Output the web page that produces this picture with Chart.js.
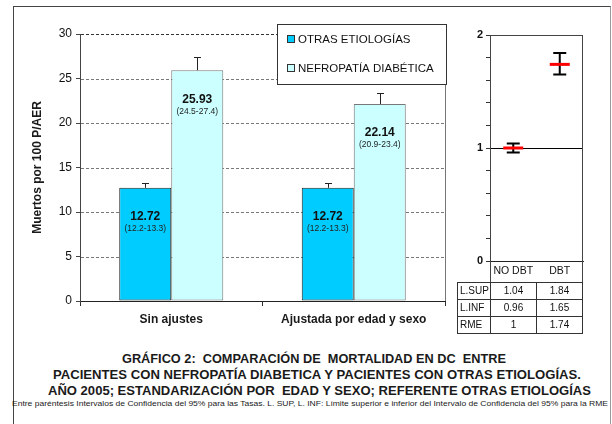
<!DOCTYPE html>
<html>
<head>
<meta charset="utf-8">
<script src="https://cdn.jsdelivr.net/npm/chart.js@4.4.1/dist/chart.umd.min.js"></script>
<style>
html,body{margin:0;padding:0;background:#fff;}
body{width:612px;height:424px;position:relative;overflow:hidden;font-family:"Liberation Sans",Arial,sans-serif;color:#111;}
#frame{position:absolute;left:13px;top:6px;width:596px;height:440px;border:1px solid #444;border-right-color:#999;}
#mainWrap{position:absolute;left:0;top:0;width:460px;height:340px;}
#rmeWrap{position:absolute;left:440px;top:20px;width:160px;height:265px;}
#rmeTable{position:absolute;left:457px;top:282px;border-collapse:collapse;font-size:10px;table-layout:fixed;}
#rmeTable td{border:1px solid #333;height:16px;padding:0;text-align:center;line-height:16px;}
#rmeTable td.lab{text-align:left;padding-left:2px;}
.tl{position:absolute;white-space:pre;font-weight:bold;font-family:"Liberation Sans Narrow","Liberation Sans",Arial,sans-serif;color:#1a1a1a;transform-origin:0 50%;}
</style>
</head>
<body>
<div id="frame"></div>
<div id="mainWrap"><canvas id="main"></canvas></div>
<div id="rmeWrap"><canvas id="rme"></canvas></div>
<table id="rmeTable"></table>

<div class="tl" data-w="384" style="left:122px;top:351px;font-size:13px;line-height:16px;">GRÁFICO 2:  COMPARACIÓN DE  MORTALIDAD EN DC  ENTRE</div>
<div class="tl" data-w="528" style="left:53px;top:367px;font-size:13px;line-height:16px;">PACIENTES CON NEFROPATÍA DIABETICA Y PACIENTES CON OTRAS ETIOLOGÍAS.</div>
<div class="tl" data-w="543" style="left:48px;top:383px;font-size:13px;line-height:16px;">AÑO 2005; ESTANDARIZACIÓN POR  EDAD Y SEXO; REFERENTE OTRAS ETIOLOGÍAS</div>
<div class="tl" data-w="596" style="left:12px;top:398px;font-size:8px;line-height:12px;font-weight:normal;">Entre paréntesis Intervalos de Confidencia del 95% para las Tasas. L. SUP, L. INF: Límite superior e inferior del Intervalo de Confidencia del 95% para la RME</div>

<script>
// tasas por 100 pacientes/año en riesgo
const categories = ['Sin ajustes', 'Ajustada por edad y sexo'];
const seriesNames = ['OTRAS ETIOLOGÍAS', 'NEFROPATÍA DIABÉTICA'];
const otrasRate = [12.72, 12.72];
const otrasLow = [12.2, 12.2];
const otrasHigh = [13.3, 13.3];
const nefroRate = [25.93, 22.14];
const nefroLow = [24.5, 20.9];
const nefroHigh = [27.4, 23.4];

// razón de mortalidad estandarizada
const rmeGroups = ['NO DBT', 'DBT'];
const rmeValue = [1, 1.74];
const rmeSup = [1.04, 1.84];
const rmeInf = [0.96, 1.65];

const BLUE = '#00CCFF';
const CYAN = '#CCFFFF';
const FONT = '"Liberation Sans", Arial, sans-serif';

// ---- barras ----
const lowArr = [otrasLow, nefroLow];
const highArr = [otrasHigh, nefroHigh];

const barExtras = {
  id: 'barExtras',
  beforeDatasetsDraw(chart){
    const {ctx, chartArea:a} = chart;
    const y = chart.scales.y;
    ctx.save();
    // líneas de división punteadas
    ctx.lineWidth = 1;
    ctx.setLineDash([3, 2]);
    for (let v = 5; v <= 30; v += 5) {
      const py = Math.round(y.getPixelForValue(v)) + 0.5;
      ctx.strokeStyle = v === 30 ? '#333' : '#777';
      ctx.beginPath();
      ctx.moveTo(a.left + 1, py);
      ctx.lineTo(a.right, py);
      ctx.stroke();
    }
    ctx.setLineDash([]);
    // borde derecho del área de trazado
    ctx.strokeStyle = '#777';
    ctx.beginPath();
    ctx.moveTo(a.right + 0.5, a.top);
    ctx.lineTo(a.right + 0.5, a.bottom);
    ctx.stroke();
    ctx.restore();
  },
  afterDatasetsDraw(chart){
    const {ctx} = chart;
    const y = chart.scales.y;
    ctx.save();
    chart.data.datasets.forEach((ds, di) => {
      const meta = chart.getDatasetMeta(di);
      meta.data.forEach((bar, i) => {
        const x = Math.round(bar.x) + 0.5;
        const top = bar.y;
        const hi = Math.round(y.getPixelForValue(highArr[di][i])) + 0.5;
        // bigote superior del intervalo
        ctx.strokeStyle = '#222';
        ctx.lineWidth = 1;
        ctx.beginPath();
        ctx.moveTo(x, top);
        ctx.lineTo(x, hi);
        ctx.moveTo(x - 3.5, hi);
        ctx.lineTo(x + 3.5, hi);
        ctx.stroke();
        // valor e intervalo dentro de la barra
        ctx.fillStyle = '#111';
        ctx.textAlign = 'center';
        ctx.textBaseline = 'middle';
        ctx.font = 'bold 12px ' + FONT;
        ctx.fillText(ds.data[i].toFixed(2), bar.x, top + 29);
        ctx.font = '8.5px ' + FONT;
        ctx.fillStyle = '#222';
        ctx.fillText('(' + lowArr[di][i].toFixed(1) + '-' + highArr[di][i].toFixed(1) + ')', bar.x, top + 41);
      });
    });
    ctx.restore();
  },
  afterDraw(chart){
    // leyenda en recuadro
    const {ctx} = chart;
    ctx.save();
    ctx.fillStyle = '#fff';
    ctx.fillRect(277, 24, 169, 60);
    ctx.strokeStyle = '#333';
    ctx.lineWidth = 1;
    ctx.strokeRect(277.5, 24.5, 169, 60);
    const rows = [39, 68];
    chart.data.datasets.forEach((ds, di) => {
      const cy = rows[di];
      ctx.fillStyle = ds.backgroundColor;
      ctx.fillRect(288, cy - 3, 6, 7);
      ctx.strokeStyle = '#333';
      ctx.strokeRect(287.5, cy - 3.5, 7, 7);
      ctx.fillStyle = '#111';
      ctx.font = '11.5px ' + FONT;
      ctx.textAlign = 'left';
      ctx.textBaseline = 'middle';
      ctx.fillText(ds.label, 298, cy + 0.5);
    });
    ctx.restore();
  }
};

new Chart(document.getElementById('main'), {
  type: 'bar',
  data: {
    labels: categories,
    datasets: [
      {label: seriesNames[0], data: otrasRate, backgroundColor: BLUE, borderColor: '#222', borderWidth: 1},
      {label: seriesNames[1], data: nefroRate, backgroundColor: CYAN, borderColor: '#777', borderWidth: 1}
    ]
  },
  options: {
    responsive: true,
    maintainAspectRatio: false,
    animation: false,
    layout: {padding: {top: 34, right: 15, left: 0, bottom: 0}},
    datasets: {bar: {categoryPercentage: 0.57, barPercentage: 1.0, borderSkipped: false}},
    plugins: {legend: {display: false}, tooltip: {enabled: false}},
    scales: {
      x: {
        offset: true,
        afterFit: s => { s.height = 39; },
        grid: {display: true, drawOnChartArea: false, offset: true, tickLength: 5, tickColor: '#333'},
        border: {display: true, color: '#222', width: 1},
        ticks: {color: '#1a1a1a', font: {family: FONT, size: 12, weight: 'bold'}, padding: 6, maxRotation: 0}
      },
      y: {
        min: 0, max: 30,
        afterFit: s => { s.width = 80; },
        ticks: {stepSize: 5, color: '#111', font: {family: FONT, size: 12}, padding: 4},
        grid: {drawOnChartArea: false, tickColor: '#444', tickLength: 4},
        border: {display: true, color: '#444'},
        title: {display: true, text: 'Muertos por 100 P/AER', color: '#1a1a1a',
                font: {family: FONT, size: 12, weight: 'bold'}, padding: {top: 30, bottom: 0}}
      }
    }
  },
  plugins: [barExtras]
});

// ---- RME ----
const rmeExtras = {
  id: 'rmeExtras',
  beforeDatasetsDraw(chart){
    const {ctx, chartArea:a} = chart;
    const x = chart.scales.x, y = chart.scales.y;
    ctx.save();
    // referencia RME = 1
    const y1 = Math.round(y.getPixelForValue(1)) + 0.5;
    ctx.strokeStyle = '#000';
    ctx.lineWidth = 1;
    ctx.beginPath();
    ctx.moveTo(a.left, y1);
    ctx.lineTo(a.right, y1);
    ctx.stroke();
    // intervalos de confianza
    ctx.lineWidth = 2;
    rmeGroups.forEach((g, i) => {
      const px = x.getPixelForValue(i);
      const ps = y.getPixelForValue(rmeSup[i]);
      const pi = y.getPixelForValue(rmeInf[i]);
      ctx.beginPath();
      ctx.moveTo(px, ps); ctx.lineTo(px, pi);
      ctx.moveTo(px - 6.5, ps); ctx.lineTo(px + 6.5, ps);
      ctx.moveTo(px - 6.5, pi); ctx.lineTo(px + 6.5, pi);
      ctx.stroke();
    });
    ctx.restore();
  },
  afterDraw(chart){
    // marco del gráfico con la fila de categorías
    const {ctx, chartArea:a} = chart;
    ctx.save();
    ctx.strokeStyle = '#444';
    ctx.lineWidth = 1;
    ctx.strokeRect(a.left + 0.5, a.top + 0.5, a.right - a.left - 1, a.bottom - a.top + 21);
    ctx.restore();
  }
};

new Chart(document.getElementById('rme'), {
  type: 'line',
  data: {
    labels: rmeGroups,
    datasets: [{
      data: rmeValue, showLine: false,
      pointStyle: 'line', pointRadius: 10, pointBorderWidth: 3,
      pointBorderColor: '#ff0000', pointBackgroundColor: '#ff0000'
    }]
  },
  options: {
    responsive: true,
    maintainAspectRatio: false,
    animation: false,
    layout: {padding: {top: 15, right: 17, left: 0, bottom: 0}},
    plugins: {legend: {display: false}, tooltip: {enabled: false}},
    scales: {
      x: {
        offset: true,
        afterFit: s => { s.height = 24; },
        grid: {display: false, drawTicks: false},
        border: {display: true, color: '#222'},
        ticks: {color: '#111', font: {family: FONT, size: 10.5}, padding: 4, maxRotation: 0}
      },
      y: {
        min: 0, max: 2,
        afterFit: s => { s.width = 50; },
        ticks: {
          stepSize: 0.2, autoSkip: false, padding: 3, color: '#111',
          font: {family: FONT, size: 11, weight: 'bold'},
          callback: v => Math.abs(v - Math.round(v)) < 1e-6 ? String(Math.round(v)) : ''
        },
        grid: {drawOnChartArea: false, tickLength: 4, tickColor: '#333'},
        border: {display: true, color: '#444'}
      }
    }
  },
  plugins: [rmeExtras]
});

// tabla de límites
const table = document.getElementById('rmeTable');
const colW = [33, 46, 46];
const rows = [['L.SUP', rmeSup], ['L.INF', rmeInf], ['RME', rmeValue]];
table.innerHTML = '<colgroup>' + colW.map(w => `<col style="width:${w}px">`).join('') + '</colgroup>' +
  rows.map(([lab, arr]) => `<tr><td class="lab">${lab}</td>${arr.map(v => `<td>${v}</td>`).join('')}</tr>`).join('');

// ajustar el ancho de los títulos
document.querySelectorAll('.tl').forEach(el => {
  const w = el.getBoundingClientRect().width;
  el.style.transform = `scaleX(${(+el.dataset.w / w).toFixed(4)})`;
});
</script>
</body>
</html>
